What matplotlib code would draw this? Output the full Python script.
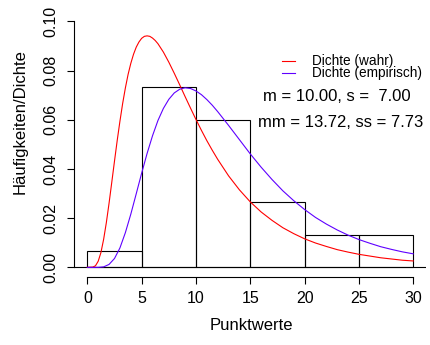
import matplotlib
matplotlib.use("Agg")
import matplotlib.pyplot as plt
from matplotlib.lines import Line2D

plt.rcParams['font.family'] = ['Liberation Sans', 'DejaVu Sans']

# histogram (density scale)
bin_edges = [0, 5, 10, 15, 20, 25, 30]
densities = [0.0067, 0.0733, 0.0600, 0.0267, 0.0133, 0.0133]

# true density curve
true_x = [0, 0.5, 0.75, 1, 1.25, 1.5, 1.75, 2, 2.25, 2.5, 2.75, 3, 3.25, 3.5, 3.75, 4,
          4.25, 4.5, 4.75, 5, 5.25, 5.5, 5.75, 6, 6.25, 6.5, 7, 7.5, 8, 8.5, 9, 9.5,
          10, 10.5, 11, 11.5, 12, 13, 14, 15, 16, 17, 18, 19, 20, 21, 22, 23, 24, 25,
          26, 27, 28, 29, 30]
true_y = [0, 0.0001, 0.00065, 0.0025, 0.0060, 0.0114, 0.0182, 0.0261, 0.0346, 0.0432,
          0.0516, 0.0594, 0.0666, 0.0729, 0.0784, 0.0829, 0.0866, 0.0895, 0.0916,
          0.0931, 0.0939, 0.0941, 0.0939, 0.0932, 0.0922, 0.0909, 0.0875, 0.0834,
          0.0789, 0.0742, 0.0694, 0.0647, 0.0601, 0.0557, 0.0515, 0.0476, 0.0439,
          0.0372, 0.0315, 0.0266, 0.0225, 0.0191, 0.0161, 0.0137, 0.0116, 0.0099,
          0.0085, 0.0072, 0.0062, 0.0053, 0.0046, 0.0039, 0.0034, 0.0029, 0.0026]

emp_x = [0, 0.5, 1, 1.5, 2, 2.5, 3, 3.5, 4, 4.5, 5, 5.5, 6, 6.5, 7, 7.5, 8, 8.5, 9,
         9.5, 10, 10.5, 11, 11.5, 12, 13, 14, 15, 16, 17, 18, 19, 20, 21, 22, 23,
         24, 25, 26, 27, 28, 29, 30]
emp_y = [0, 0, 0.0000, 0.0002, 0.0012, 0.0036, 0.0079, 0.0141, 0.0216, 0.0299,
         0.0383, 0.0463, 0.0535, 0.0597, 0.0646, 0.0683, 0.0709, 0.0724, 0.0730,
         0.0727, 0.0717, 0.0702, 0.0682, 0.0659, 0.0633, 0.0577, 0.0519, 0.0461,
         0.0407, 0.0357, 0.0311, 0.0271, 0.0235, 0.0203, 0.0176, 0.0152, 0.0131,
         0.0113, 0.0098, 0.0084, 0.0073, 0.0063, 0.0055]

x_ticks = [0, 5, 10, 15, 20, 25, 30]
y_ticks = [0.00, 0.02, 0.04, 0.06, 0.08, 0.10]
y_labels = ["0.00", "0.02", "0.04", "0.06", "0.08", "0.10"]

W, H = 430, 345
red = "#FF0000"
blue = "#5F00FF"


def fx(px):
    return px / W


def fy(py):
    return 1 - py / H


fig = plt.figure(figsize=(W / 100, H / 100), dpi=100)
ax = fig.add_axes([fx(74.3), fy(277.2), (426.3 - 74.3) / W, (277.2 - 11.5) / H])

widths = [bin_edges[i + 1] - bin_edges[i] for i in range(len(densities))]
ax.bar(bin_edges[:-1], densities, width=widths, align='edge', fill=False,
       edgecolor='black', linewidth=0.8)
ax.axhline(0, color='black', linewidth=0.8)
ax.plot(true_x, true_y, color=red, linewidth=0.8)
ax.plot(emp_x, emp_y, color=blue, linewidth=0.8)

ax.set_xlim(-1.2, 31.2)
ax.set_ylim(-0.004, 0.104)
for s in ['top', 'right']:
    ax.spines[s].set_visible(False)
ax.spines['left'].set_bounds(0, 0.1)
ax.spines['bottom'].set_bounds(0, 30)
for s in ['left', 'bottom']:
    ax.spines[s].set_linewidth(0.8)

ax.set_xticks(x_ticks)
ax.set_yticks(y_ticks)
ax.set_yticklabels(y_labels, rotation=90, va='center')
ax.tick_params(direction='out', length=5, width=0.8, labelsize=11.5)
ax.tick_params(axis='x', pad=5)
ax.tick_params(axis='y', pad=6.5)

fig.text(fx(20), fy(122), "Häufigkeiten/Dichte", rotation=90, ha='center',
         va='center', fontsize=12)
fig.text(fx(251), fy(330), "Punktwerte", ha='center', va='baseline', fontsize=12)

# legend without box
fig.add_artist(Line2D([fx(281.7), fx(295)], [fy(61), fy(61)], color=red, linewidth=0.8))
fig.add_artist(Line2D([fx(281.7), fx(295)], [fy(73), fy(73)], color=blue, linewidth=0.8))
fig.text(fx(311.7), fy(64.5), "Dichte (wahr)", ha='left', va='baseline', fontsize=9.8)
fig.text(fx(311.7), fy(77.5), "Dichte (empirisch)", ha='left', va='baseline', fontsize=9.8)

fig.text(fx(263.3), fy(101), "m = 10.00, s =  7.00", ha='left', va='baseline', fontsize=12)
fig.text(fx(258.3), fy(126.7), "mm = 13.72, ss = 7.73", ha='left', va='baseline', fontsize=12)

fig.savefig("out.png", dpi=100)
